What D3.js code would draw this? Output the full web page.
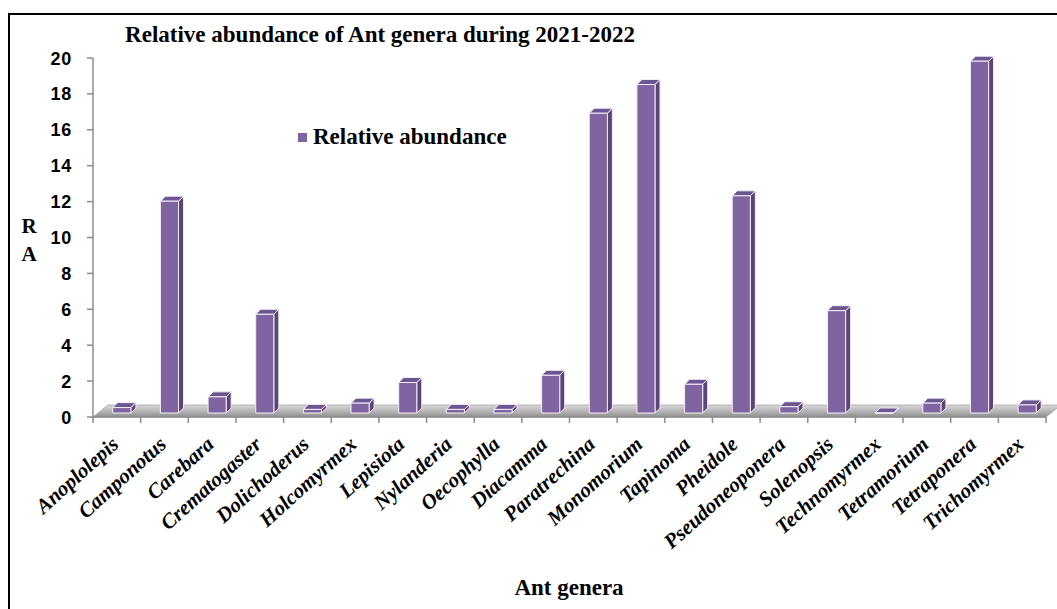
<!DOCTYPE html>
<html>
<head>
<meta charset="utf-8">
<script src="https://cdn.jsdelivr.net/npm/d3@7"></script>
<style>
  html, body { margin: 0; padding: 0; background: #fff; }
  svg { display: block; }
</style>
</head>
<body>
<svg id="chart" width="1057" height="609"></svg>
<script>
// Ant genera recorded during 2021-2022 and their relative abundance (RA, %)
const genera = [
  "Anoplolepis", "Camponotus", "Carebara", "Crematogaster", "Dolichoderus",
  "Holcomyrmex", "Lepisiota", "Nylanderia", "Oecophylla", "Diacamma",
  "Paratrechina", "Monomorium", "Tapinoma", "Pheidole", "Pseudoneoponera",
  "Solenopsis", "Technomyrmex", "Tetramorium", "Tetraponera", "Trichomyrmex"
];
const relativeAbundance = [
  0.3, 11.8, 0.9, 5.5, 0.2,
  0.55, 1.7, 0.2, 0.2, 2.1,
  16.7, 18.3, 1.6, 12.1, 0.35,
  5.7, 0, 0.55, 19.6, 0.45
];
const yTicks = [0, 2, 4, 6, 8, 10, 12, 14, 16, 18, 20];
const seriesName = "Relative abundance";
const chartTitle = "Relative abundance of Ant genera during 2021-2022";
const xTitle = "Ant genera";
const yTitleLines = ["R", "A"];

const svg = d3.select("#chart");
const serif = "'Liberation Serif', 'Times New Roman', serif";
const sans = "'Liberation Sans', Arial, sans-serif";

// plot geometry
const plot = { left: 93, right: 1046, top: 58, bottom: 417 };
const depth = { dx: 15, dy: -12 };          // oblique offset of the floor's back edge
const barDepth = { dx: 5, dy: -5 };         // depth of each column
const barShift = { dx: 5, dy: -4 };         // columns sit a third of the way into the floor

const x = d3.scaleBand().domain(genera).range([plot.left, plot.right]).paddingInner(0).paddingOuter(0);
const y = d3.scaleLinear().domain([0, 20]).range([plot.bottom, plot.top]);
const barW = x.bandwidth() * 0.38;

// outer frame
svg.append("rect")
  .attr("x", 9).attr("y", 14).attr("width", 1060).attr("height", 620)
  .attr("fill", "none").attr("stroke", "#000").attr("stroke-width", 2);

// floor gradient
const defs = svg.append("defs");
const grad = defs.append("linearGradient").attr("id", "floorGrad")
  .attr("x1", 0).attr("y1", 0).attr("x2", 0).attr("y2", 1);
grad.append("stop").attr("offset", "0%").attr("stop-color", "#d9d9d9");
grad.append("stop").attr("offset", "55%").attr("stop-color", "#b3b3b3");
grad.append("stop").attr("offset", "100%").attr("stop-color", "#8f8f8f");

const y0 = y(0);
svg.append("path")
  .attr("d", d3.line()([
    [plot.left, y0], [plot.right, y0],
    [plot.right + depth.dx, y0 + depth.dy], [plot.left + depth.dx, y0 + depth.dy]
  ]) + "Z")
  .attr("fill", "url(#floorGrad)")
  .attr("stroke", "#a6a6a6").attr("stroke-width", 0.8);

// columns
const cols = svg.append("g").selectAll("g")
  .data(genera.map((g, i) => ({ g, v: relativeAbundance[i] })))
  .join("g");

cols.each(function (d) {
  const g = d3.select(this);
  const cx = x(d.g) + x.bandwidth() / 2 + barShift.dx;
  const x0 = cx - barW / 2, x1 = cx + barW / 2;
  const base = y(0) + barShift.dy;
  const top = y(d.v) + barShift.dy;
  const edge = { stroke: "#f2eef7", "stroke-width": 1, "stroke-linejoin": "round" };
  const poly = (pts, fill) => {
    const p = g.append("path").attr("d", d3.line()(pts) + "Z").attr("fill", fill);
    Object.entries(edge).forEach(([k, v]) => p.attr(k, v));
  };
  // side face
  poly([[x1, top], [x1 + barDepth.dx, top + barDepth.dy],
        [x1 + barDepth.dx, base + barDepth.dy], [x1, base]], "#5b4578");
  // top face
  poly([[x0, top], [x0 + barDepth.dx, top + barDepth.dy],
        [x1 + barDepth.dx, top + barDepth.dy], [x1, top]], "#6c5691");
  // front face
  poly([[x0, top], [x1, top], [x1, base], [x0, base]], "#8064a2");
});

// value axis
const axisColor = "#8c8c8c";
svg.append("line")
  .attr("x1", plot.left).attr("x2", plot.left)
  .attr("y1", y(20)).attr("y2", y(0))
  .attr("stroke", axisColor).attr("stroke-width", 1.5);
const yAxis = svg.append("g");
yAxis.selectAll("line").data(yTicks).join("line")
  .attr("x1", plot.left - 6).attr("x2", plot.left)
  .attr("y1", d => y(d)).attr("y2", d => y(d))
  .attr("stroke", axisColor).attr("stroke-width", 1.5);
yAxis.selectAll("text").data(yTicks).join("text")
  .attr("x", 72).attr("y", d => y(d) + 6.5)
  .attr("text-anchor", "end")
  .attr("font-family", sans).attr("font-weight", "bold").attr("font-size", 18)
  .attr("letter-spacing", 0.8)
  .attr("fill", "#000")
  .text(d => d);

// category axis
svg.append("line")
  .attr("x1", plot.left).attr("x2", plot.right)
  .attr("y1", y0).attr("y2", y0)
  .attr("stroke", axisColor).attr("stroke-width", 1.5);
const boundaries = genera.map(g => x(g)).concat([plot.right]);
svg.append("g").selectAll("line").data(boundaries).join("line")
  .attr("x1", d => d).attr("x2", d => d)
  .attr("y1", y0).attr("y2", y0 + 6)
  .attr("stroke", axisColor).attr("stroke-width", 1.5);

svg.append("g").selectAll("text").data(genera).join("text")
  .attr("transform", d => `translate(${x(d) + x.bandwidth() / 2 + 3},${446}) rotate(-42)`)
  .attr("text-anchor", "end")
  .attr("font-family", serif).attr("font-weight", "bold").attr("font-style", "italic")
  .attr("font-size", 21).attr("fill", "#000")
  .text(d => d);

// titles
svg.append("text")
  .attr("x", 380).attr("y", 42)
  .attr("text-anchor", "middle")
  .attr("font-family", serif).attr("font-weight", "bold").attr("font-size", 23)
  .text(chartTitle);

svg.append("text")
  .attr("x", 569).attr("y", 595)
  .attr("text-anchor", "middle")
  .attr("font-family", serif).attr("font-weight", "bold").attr("font-size", 23)
  .text(xTitle);

svg.append("g").selectAll("text").data(yTitleLines).join("text")
  .attr("x", 29).attr("y", (d, i) => 233 + i * 28)
  .attr("text-anchor", "middle")
  .attr("font-family", serif).attr("font-weight", "bold").attr("font-size", 21)
  .text(d => d);

// legend
const legend = svg.append("g").attr("transform", "translate(298,133)");
legend.append("rect").attr("width", 9).attr("height", 9).attr("fill", "#8064a2");
legend.append("text")
  .attr("x", 15).attr("y", 11)
  .attr("font-family", serif).attr("font-weight", "bold").attr("font-size", 23)
  .text(seriesName);
</script>
</body>
</html>
